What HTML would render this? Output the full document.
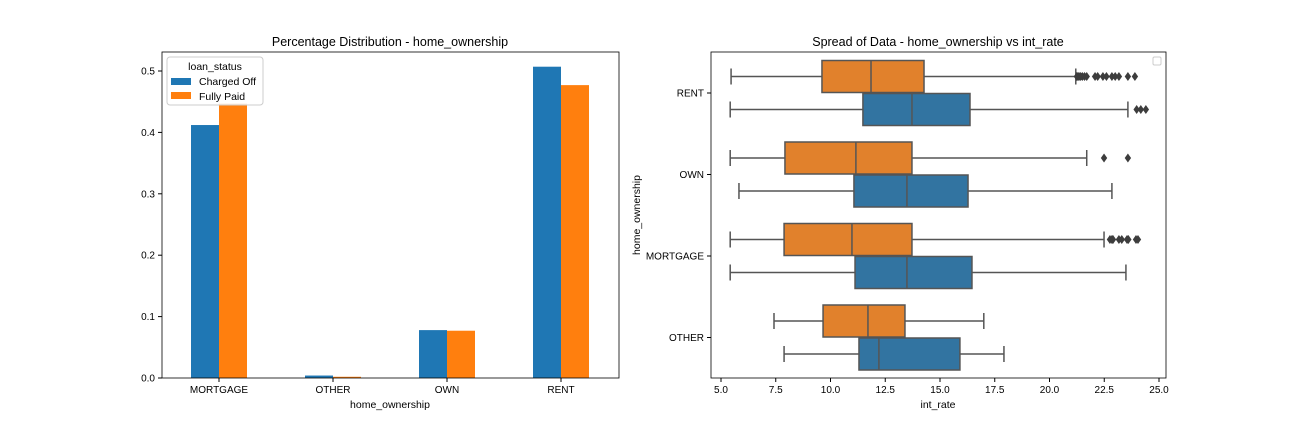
<!DOCTYPE html>
<html><head><meta charset="utf-8"><style>
body{margin:0;background:#fff;}
svg{display:block;font-family:"Liberation Sans","DejaVu Sans",sans-serif;}
</style></head><body>
<svg id="fig" width="1296" height="432" viewBox="0 0 1296 432">
<g id="left"></g>
<g id="right"></g>
</svg>
<script>
const barCats=["MORTGAGE","OTHER","OWN","RENT"];
const chargedOff=[0.412,0.004,0.078,0.507];
const fullyPaid=[0.447,0.002,0.077,0.477];
const barTicks=[0.0,0.1,0.2,0.3,0.4,0.5];

const boxCats=["RENT","OWN","MORTGAGE","OTHER"];
// [lo, q1, med, q3, hi]
const fullyPaidBox=[[5.46,9.61,11.85,14.27,21.2],[5.42,7.92,11.16,13.72,21.7],[5.42,7.88,10.98,13.72,22.49],[7.42,9.66,11.71,13.4,17.0]];
const chargedOffBox=[[5.42,11.48,13.72,16.37,23.58],[5.82,11.07,13.49,16.28,22.85],[5.42,11.12,13.49,16.46,23.49],[7.88,11.3,12.21,15.91,17.92]];
const fullyPaidOut=[[21.25,21.3,21.35,21.42,21.5,21.6,21.7,22.08,22.2,22.44,22.6,22.85,23.0,23.17,23.58,23.9],[22.49,23.58],[22.76,22.85,22.9,23.17,23.3,23.54,23.6,23.95,24.04],[]];
const chargedOffOut=[[23.98,24.17,24.4],[],[],[]];
const xTicks=[5.0,7.5,10.0,12.5,15.0,17.5,20.0,22.5,25.0];

const NS="http://www.w3.org/2000/svg";
function mk(parent,tag,attrs,text){const e=document.createElementNS(NS,tag);for(const k in attrs)e.setAttribute(k,attrs[k]);if(text!==undefined)e.textContent=text;parent.appendChild(e);return e;}
const BLUE="#1f77b4",ORANGE="#ff7f0e",BBLUE="#3274a1",BORANGE="#e1812c",LINE="#555";

// Left chart
const L=document.getElementById('left');
const lx0=162,lx1=619,ly0=52,ly1=378;
const yS=v=>378-v*614;
const catX=i=>219+i*114;
mk(L,'text',{x:390,y:46,'text-anchor':'middle','font-size':12.5,},'Percentage Distribution - home_ownership');
barCats.forEach((c,i)=>{
  let r=mk(L,'rect',{x:catX(i)-28,y:yS(chargedOff[i]),width:28,height:378-yS(chargedOff[i]),fill:BLUE});
  
  
  let r2=mk(L,'rect',{x:catX(i),y:yS(fullyPaid[i]),width:28,height:378-yS(fullyPaid[i]),fill:ORANGE});
  
  
  mk(L,'line',{x1:catX(i),x2:catX(i),y1:378,y2:382,stroke:'#000'});
  let t=mk(L,'text',{x:catX(i),y:393,'text-anchor':'middle','font-size':10},c);
  
  
});
barTicks.forEach(v=>{
  mk(L,'line',{x1:158,x2:162,y1:yS(v),y2:yS(v),stroke:'#000'});
  let t=mk(L,'text',{x:155,y:yS(v)+3.5,'text-anchor':'end','font-size':10},v.toFixed(1));
  
  
});
mk(L,'rect',{x:lx0,y:ly0,width:lx1-lx0,height:ly1-ly0,fill:'none',stroke:'#000','stroke-width':0.8});
mk(L,'text',{x:390,y:408,'text-anchor':'middle','font-size':10.5,},'home_ownership');
const lg=mk(L,'g',{});
mk(lg,'rect',{x:167,y:57,width:96,height:48,rx:3,fill:'#fff','fill-opacity':0.85,stroke:'#ccc'});
mk(lg,'text',{x:215,y:70,'text-anchor':'middle','font-size':10.5},'loan_status');
mk(lg,'rect',{x:171,y:78,width:20,height:7,fill:BLUE});
mk(lg,'text',{x:199,y:85,'font-size':10.5,},'Charged Off');
mk(lg,'rect',{x:171,y:92,width:20,height:7,fill:ORANGE});
mk(lg,'text',{x:199,y:100,'font-size':10.5,},'Fully Paid');

// Right chart
const R=document.getElementById('right');
const rx0=711,rx1=1166,ry0=52,ry1=378;
const xS=v=>721+(v-5)*21.9;
const catY=i=>93+i*81.5;
mk(R,'text',{x:938,y:46,'text-anchor':'middle','font-size':12.5,},'Spread of Data - home_ownership vs int_rate');
function box(b,cy,col,outs,name){
  const g=mk(R,'g',{});
  
  
  const h=32,y0=cy-h/2;
  mk(g,'line',{x1:xS(b[0]),x2:xS(b[1]),y1:cy,y2:cy,stroke:LINE,'stroke-width':1.5});
  mk(g,'line',{x1:xS(b[3]),x2:xS(b[4]),y1:cy,y2:cy,stroke:LINE,'stroke-width':1.5});
  mk(g,'line',{x1:xS(b[0]),x2:xS(b[0]),y1:cy-8,y2:cy+8,stroke:LINE,'stroke-width':1.5});
  mk(g,'line',{x1:xS(b[4]),x2:xS(b[4]),y1:cy-8,y2:cy+8,stroke:LINE,'stroke-width':1.5});
  mk(g,'rect',{x:xS(b[1]),y:y0,width:xS(b[3])-xS(b[1]),height:h,fill:col,stroke:LINE,'stroke-width':1.5});
  mk(g,'line',{x1:xS(b[2]),x2:xS(b[2]),y1:y0,y2:y0+h,stroke:LINE,'stroke-width':1.5});
  outs.forEach(o=>{const x=xS(o);mk(g,'path',{d:`M${x} ${cy-4.5}L${x+3.2} ${cy}L${x} ${cy+4.5}L${x-3.2} ${cy}Z`,fill:'#3d3d3d'});});
}
boxCats.forEach((c,i)=>{
  box(fullyPaidBox[i],catY(i)-16.5,BORANGE,fullyPaidOut[i],'box-fully-paid-'+c.toLowerCase());
  box(chargedOffBox[i],catY(i)+16.5,BBLUE,chargedOffOut[i],'box-charged-off-'+c.toLowerCase());
  mk(R,'line',{x1:707,x2:711,y1:catY(i),y2:catY(i),stroke:'#000'});
  let t=mk(R,'text',{x:704,y:catY(i)+3.5,'text-anchor':'end','font-size':10},c);
  
  
});
xTicks.forEach(v=>{
  mk(R,'line',{x1:xS(v),x2:xS(v),y1:378,y2:382,stroke:'#000'});
  let t=mk(R,'text',{x:xS(v),y:393,'text-anchor':'middle','font-size':10},v.toFixed(1));
  
  
});
mk(R,'rect',{x:rx0,y:ry0,width:rx1-rx0,height:ry1-ry0,fill:'none',stroke:'#000','stroke-width':0.8});
mk(R,'text',{x:938,y:408,'text-anchor':'middle','font-size':10.5,},'int_rate');
mk(R,'text',{x:640,y:215,'text-anchor':'middle','font-size':10.5,transform:'rotate(-90 640 215)',},'home_ownership');
mk(R,'rect',{x:1153,y:57,width:8,height:8,rx:1.5,fill:'#fff',stroke:'#ccc',});
</script>
</body></html>
